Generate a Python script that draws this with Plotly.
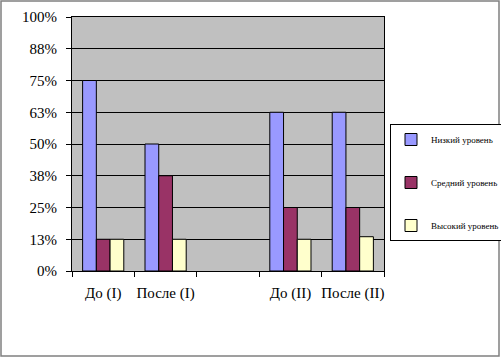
import plotly.graph_objects as go

categories = ["До (I)", "После (I)", " ", "До (II)", "После (II)"]
low = [0.75, 0.50, None, 0.625, 0.625]
mid = [0.125, 0.375, None, 0.25, 0.25]
high = [0.125, 0.125, None, 0.125, 0.135]
series_names = ["Низкий уровень", "Средний уровень", "Высокий уровень"]
colors = ["#9999FF", "#993366", "#FFFFCC"]
tick_vals = [0, 0.125, 0.25, 0.375, 0.5, 0.625, 0.75, 0.875, 1.0]
tick_text = ["0%", "13%", "25%", "38%", "50%", "63%", "75%", "88%", "100%"]

fig = go.Figure()
for name, vals, col in zip(series_names, [low, mid, high], colors):
    fig.add_trace(go.Bar(
        x=categories, y=vals, name=name, legendgroup=name,
        marker=dict(color=col, line=dict(color="black", width=1)),
    ))

L, R, T, B = 72, 117, 17, 87
W, H = 501, 358
pw, ph = W - L - R, H - T - B
FONT = "Liberation Serif, Times New Roman, serif"

fig.update_layout(
    width=W, height=H,
    margin=dict(l=L, r=R, t=T, b=B, autoexpand=False),
    paper_bgcolor="white", plot_bgcolor="#C0C0C0",
    barmode="group", bargap=0.34, bargroupgap=0,
    font=dict(family=FONT, size=15, color="black"),
    showlegend=True,
    legend=dict(
        x=(390 - L) / pw, y=(271 - 124) / ph, xanchor="left", yanchor="top",
        bgcolor="white", bordercolor="black", borderwidth=1,
        font=dict(family=FONT, size=9, color="black"),
        tracegroupgap=24, itemwidth=30,
    ),
    xaxis=dict(
        type="category", categoryorder="array", categoryarray=categories,
        tickson="boundaries", ticks="outside", ticklen=5, tickcolor="black",
        showline=True, linecolor="black", linewidth=1, mirror=True,
        showgrid=False, ticklabelstandoff=8, tickangle=0, automargin=False,
    ),
    yaxis=dict(
        range=[0, 1], tickvals=tick_vals, ticktext=tick_text,
        ticks="outside", ticklen=5, tickcolor="black",
        showline=True, linecolor="black", linewidth=1, mirror=True,
        showgrid=True, gridcolor="black", gridwidth=1,
        zeroline=False, ticklabelstandoff=6, automargin=False,
    ),
    shapes=[dict(
        type="rect", xref="paper", yref="paper",
        x0=(1 - L) / pw, x1=(499 - L) / pw,
        y0=(271 - 356) / ph, y1=(271 - 1) / ph,
        line=dict(color="#808080", width=1.5), layer="below",
    )],
)

fig.write_html("out.html", config={"displayModeBar": False},
               post_script="document.body.style.margin='0px';")
